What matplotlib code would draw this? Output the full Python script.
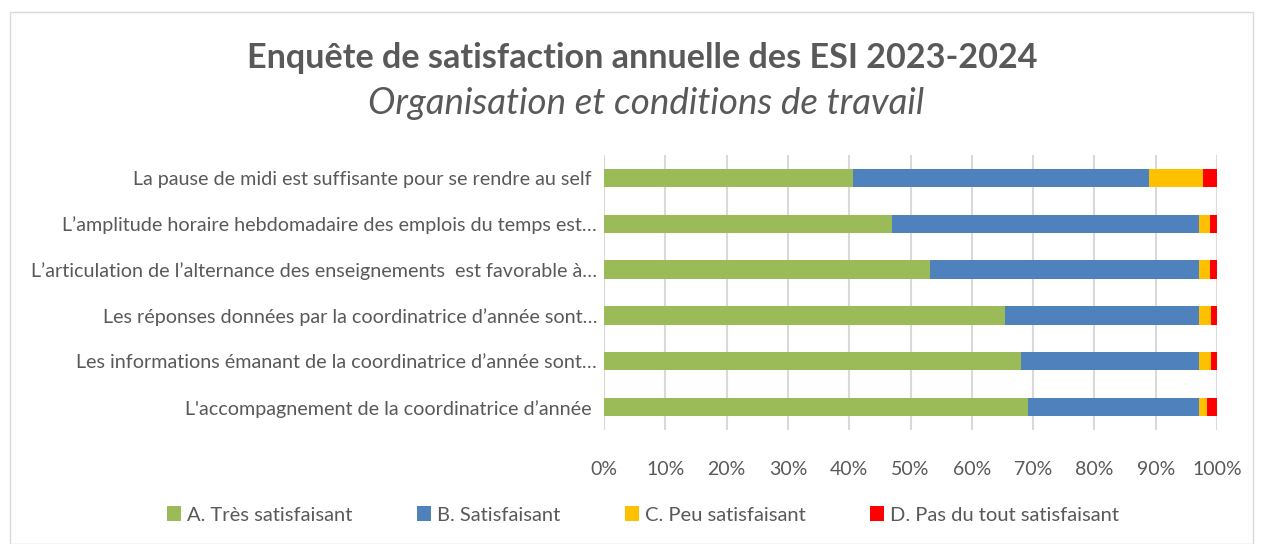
import matplotlib
matplotlib.use("Agg")
import matplotlib.pyplot as plt
from matplotlib.patches import Rectangle
import numpy as np

plt.rcParams['font.family'] = ['Lato', 'DejaVu Sans']

categories = [
    "La pause de midi est suffisante pour se rendre au self ",
    "L\u2019amplitude horaire hebdomadaire des emplois du temps est\u2026",
    "L\u2019articulation de l\u2019alternance des enseignements  est favorable \u00e0\u2026",
    "Les r\u00e9ponses donn\u00e9es par la coordinatrice d\u2019ann\u00e9e sont\u2026",
    "Les informations \u00e9manant de la coordinatrice d\u2019ann\u00e9e sont\u2026",
    "L'accompagnement de la coordinatrice d\u2019ann\u00e9e ",
]
series_names = ["A. Tr\u00e8s satisfaisant", "B. Satisfaisant", "C. Peu satisfaisant",
                "D. Pas du tout satisfaisant"]
tres_satisfaisant = [40.7, 47.0, 53.2, 65.4, 68.0, 69.1]
satisfaisant = [48.2, 50.1, 43.9, 31.7, 29.1, 28.0]
peu_satisfaisant = [8.8, 1.8, 1.8, 1.9, 1.9, 1.3]
pas_du_tout = [2.3, 1.1, 1.1, 1.0, 1.0, 1.6]
colors = ["#9BBB59", "#4F81BD", "#FFC000", "#FF0000"]
xticks = list(range(0, 101, 10))
xticklabels = [f"{t}%" for t in xticks]

fig = plt.figure(figsize=(12.63, 5.44), dpi=100)
# outer border
fig.patches.append(Rectangle((10/1263, 0), 1243/1263, 532/544, transform=fig.transFigure,
                             fill=False, edgecolor="#D9D9D9", linewidth=1.0))

ax = fig.add_axes([604/1263, (544-430)/544, 613/1263, 275/544])
series = [tres_satisfaisant, satisfaisant, peu_satisfaisant, pas_du_tout]
y = np.arange(len(categories))
left = np.zeros(len(categories))
for vals, col, name in zip(series, colors, series_names):
    v = np.array(vals)
    ax.barh(y, v, left=left, height=0.4, color=col, label=name, zorder=3)
    left += v

ax.set_xlim(0, 100)
ax.set_ylim(len(categories) - 0.5, -0.5)
ax.set_yticks(y)
ax.set_yticklabels(categories, fontsize=14.2, color="#595959")
ax.set_xticks(xticks)
ax.set_xticklabels(xticklabels, fontsize=14, color="#595959")
ax.tick_params(axis='both', length=0)
ax.tick_params(axis='x', pad=22)
ax.tick_params(axis='y', pad=5)
ax.grid(axis='x', color="#D9D9D9", linewidth=1.5, zorder=0)
for s in ax.spines.values():
    s.set_visible(False)

fig.text(642/1263, (544-58)/544, "Enqu\u00eate de satisfaction annuelle des ESI 2023-2024",
         ha='center', va='center', fontsize=24.6, fontweight='bold', color="#595959")
fig.text(646/1263, (544-103)/544, "Organisation et conditions de travail",
         ha='center', va='center', fontsize=26.5, fontstyle='italic', color="#595959")

handles, labels = ax.get_legend_handles_labels()
fig.legend(handles, labels, loc='center', bbox_to_anchor=(643/1263, (544-515)/544), ncol=4,
           frameon=False, fontsize=14.5, labelcolor="#595959", handlelength=0.7,
           handleheight=0.7, handletextpad=0.3, columnspacing=3.2)

fig.savefig("out.png", dpi=100)
